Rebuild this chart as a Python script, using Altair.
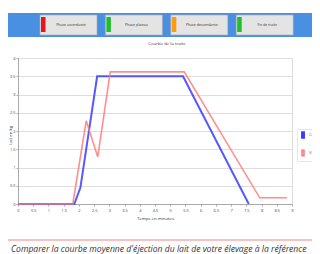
import altair as alt
import pandas as pd

# ---- data ----
x_type = [0, 1.85, 2.05, 2.6, 5.42, 7.58]
y_type = [0, 0, 0.45, 3.5, 3.5, 0]
x_votre = [0, 1.8, 2.24, 2.62, 3.03, 5.46, 7.94, 8.84]
y_votre = [0, 0, 2.28, 1.29, 3.62, 3.62, 0.17, 0.17]
series = ["Courbe type", "Votre courbe"]
series_colors = ["#3b3bff", "#ff7b7b"]
x_ticks = [0, 0.5, 1, 1.5, 2, 2.5, 3, 3.5, 4, 4.5, 5, 5.5, 6, 6.5, 7, 7.5, 8, 8.5, 9]
y_ticks = [0, 0.5, 1, 1.5, 2, 2.5, 3, 3.5, 4]
buttons = ["Phase ascendante", "Phase plateau", "Phase descendante", "Fin de traite"]
button_colors = ["#e8141c", "#1fbf2a", "#ff9a10", "#1fbf2a"]
chart_title = "Courbe de la traite"
x_title = "Temps en minutes"
y_title = "Lait en kg"
footer = "Comparer la courbe moyenne d'éjection du lait de votre élevage à la référence"

FONT = "Open Sans"

rows = []
for i, (xv, yv) in enumerate(zip(x_type, y_type)):
    rows.append({"t": xv, "v": yv, "s": series[0], "o": i})
for i, (xv, yv) in enumerate(zip(x_votre, y_votre)):
    rows.append({"t": xv, "v": yv, "s": series[1], "o": i})
df = pd.DataFrame(rows)
one = pd.DataFrame({"a": [0]})

lines = alt.Chart(df).mark_line(opacity=0.85).encode(
    x=alt.X("t:Q", scale=alt.Scale(domain=[0, 9], nice=False),
            axis=alt.Axis(values=x_ticks, title=x_title, grid=False, labelFontSize=4,
                          labelExpr="toString(datum.value)",
                          titleFontSize=4.3, titleFontWeight="normal", tickSize=2,
                          labelPadding=2, titlePadding=4, labelColor="#444", titleColor="#333",
                          domainColor="#aaa", tickColor="#aaa", labelFlush=False, labelOverlap=False)),
    y=alt.Y("v:Q", scale=alt.Scale(domain=[0, 4], nice=False),
            axis=alt.Axis(values=y_ticks, title=y_title, grid=True, gridColor="#dedede",
                          labelExpr="toString(datum.value)",
                          labelFontSize=4, titleFontSize=4.3, titleFontWeight="normal", tickSize=2,
                          labelPadding=1, labelColor="#444", titleColor="#333",
                          titleX=-7.5, titleY=77, titleAngle=270, titleBaseline="middle",
                          titleAlign="center",
                          domainColor="#aaa", tickColor="#aaa", labelOverlap=False)),
    color=alt.Color("s:N", scale=alt.Scale(domain=series, range=series_colors),
                    legend=alt.Legend(title=None, orient="none", legendX=279, legendY=71,
                                      symbolType="M-0.35,-1H0.35V1H-0.35Z", symbolSize=30,
                                      symbolStrokeWidth=0, symbolOpacity=1, labelFontSize=4,
                                      labelColor="#666", rowPadding=5, labelOffset=2,
                                      strokeColor="#e6e6e6", padding=2)),
    strokeWidth=alt.StrokeWidth("s:N", scale=alt.Scale(domain=series, range=[2, 1.6]), legend=None),
    order="o:Q",
)

layers = []
# header band
layers.append(alt.Chart(one).mark_rect(color="#4a90e2").encode(
    x=alt.value(-10), x2=alt.value(300), y=alt.value(-45), y2=alt.value(-21)))
for i, (lab, col) in enumerate(zip(buttons, button_colors)):
    x0 = 22 + i * 65.4
    layers.append(alt.Chart(one).mark_rect(color="#e4e4e4", stroke="#a8a8a8", strokeWidth=0.6).encode(
        x=alt.value(x0), x2=alt.value(x0 + 57), y=alt.value(-43), y2=alt.value(-23)))
    layers.append(alt.Chart(one).mark_rect(color=col).encode(
        x=alt.value(x0 + 1), x2=alt.value(x0 + 5.5), y=alt.value(-41), y2=alt.value(-26)))
    layers.append(alt.Chart(one).mark_text(text=lab, fontSize=3.5, color="#333", font=FONT,
                                           align="center", baseline="middle").encode(
        x=alt.value(x0 + 31), y=alt.value(-33)))

layers.append(alt.Chart(one).mark_text(text=chart_title, fontSize=4.3, color="#333", font=FONT,
                                       align="center", baseline="middle").encode(
    x=alt.value(149), y=alt.value(-14)))
layers.append(lines)
layers.append(alt.Chart(one).mark_rule(color="#ee8585", strokeWidth=1.2).encode(
    x=alt.value(-10), x2=alt.value(300), y=alt.value(182)))
layers.append(alt.Chart(one).mark_text(text=footer, fontSize=8.6, fontStyle="italic", color="#333",
                                       font=FONT, align="left", baseline="alphabetic").encode(
    x=alt.value(-7), y=alt.value(193.5)))

chart = alt.layer(*layers).properties(
    width=274, height=146,
    autosize=alt.AutoSizeParams(type="none"),
    padding={"left": 10, "top": 50, "right": 20, "bottom": 50},
    background="white",
).configure_view(stroke="#dcdcdc").configure(font=FONT)

chart.save("out.html", embed_options={"renderer": "svg", "actions": False})
